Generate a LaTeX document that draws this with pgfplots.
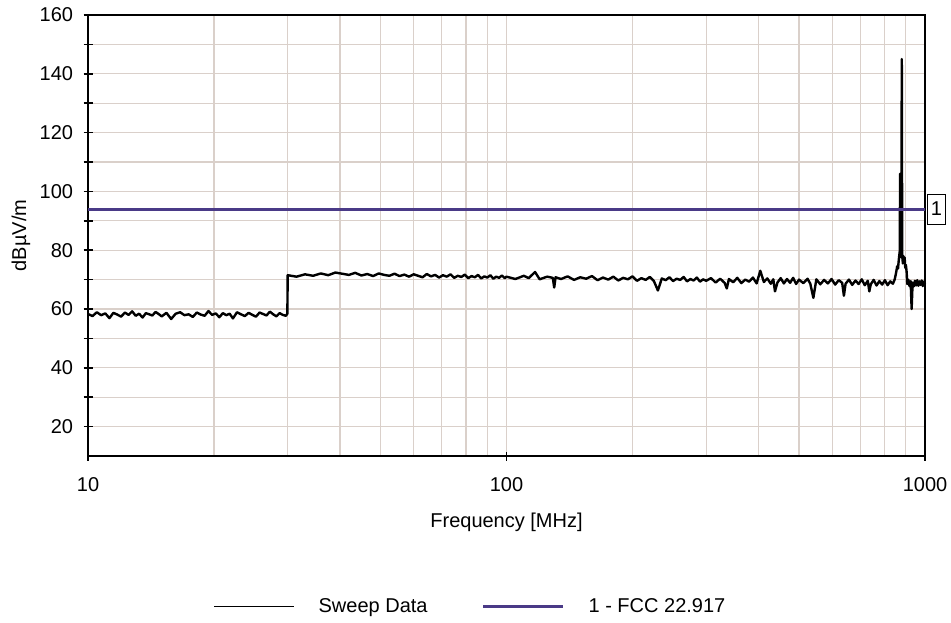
\documentclass[border=0pt]{standalone}
\usepackage{fontspec}
\setmainfont{Liberation Sans}
\usepackage{pgfplots}
\pgfplotsset{compat=1.18}
\definecolor{gridc}{RGB}{218,208,202}
\definecolor{limitc}{RGB}{74,58,135}

\begin{document}
\begin{tikzpicture}
\useasboundingbox (-44pt,-83pt) rectangle (431.5pt,228pt);
\begin{axis}[
  at={(0,0)}, anchor=south west,
  scale only axis,
  width=418.5pt, height=220.5pt,
  xmode=log,
  xmin=10, xmax=1000,
  ymin=10, ymax=160,
  log ticks with fixed point,
  /pgf/number format/1000 sep={},
  xtick={10,100,1000},
  ytick={20,40,...,160},
  minor y tick num=1,
  tick pos=left,
  grid=both,
  major grid style={gridc, line width=0.6pt},
  minor grid style={gridc, line width=0.6pt},
  axis line style={black, line width=0.9pt},
  tick align=center,
  major tick length=4.5pt,
  minor tick length=4.5pt,
  every tick/.style={black, line width=0.8pt},
  minor x tick style={draw=none},
  /pgf/number format/assume math mode=true,
  tick label style={font=\fontsize{10}{12}\selectfont},
  xticklabel style={yshift=-5pt},
  yticklabel style={xshift=-1.7pt},
  xlabel={Frequency [MHz]},
  ylabel={dBµV/m},
  label style={font=\fontsize{10}{12}\selectfont},
  xlabel style={at={(axis description cs:0.5,-0.1497)}, anchor=center},
  ylabel style={at={(axis description cs:-0.080,0.5)}, anchor=center},
  clip=false,
  legend columns=2,
  legend style={at={(axis description cs:0.1494,-0.342)}, anchor=west,
    draw=none, fill=none, inner sep=0pt,
    font=\fontsize{10}{12}\selectfont,
    nodes={inner sep=0pt, anchor=west},
    /tikz/every odd column/.append style={column sep=12pt},
    /tikz/every even column/.append style={column sep=27pt}},
  legend image code/.code={\draw[#1] (0pt,0pt) -- (40pt,0pt);},
]
% sweep data
\addplot[black, line width=1.2pt, line join=round, forget plot] coordinates {
(10.00,58.3) (10.25,57.6) (10.50,58.9) (10.75,57.9) (11.00,58.5) (11.25,56.9)
(11.50,58.7) (11.75,58.1) (12.00,57.4) (12.25,58.8) (12.50,58.0) (12.75,59.2)
(13.00,57.7) (13.25,58.4) (13.50,57.1) (13.75,58.6) (14.00,58.2) (14.25,57.8)
(14.50,59.0) (14.75,58.3) (15.00,57.5) (15.40,58.7) (15.80,56.6) (16.20,58.4)
(16.60,58.9) (17.00,57.9) (17.40,58.2) (17.80,57.3) (18.20,58.8) (18.60,58.1)
(19.00,57.7) (19.40,59.3) (19.80,58.0) (20.20,58.5) (20.60,57.2) (21.00,58.6)
(21.40,57.9) (21.80,58.4) (22.20,56.8) (22.70,58.9) (23.20,58.2) (23.70,57.6)
(24.20,58.7) (24.70,58.0) (25.20,57.4) (25.70,58.8) (26.20,58.3) (26.70,57.8)
(27.20,59.1) (27.70,58.2) (28.20,57.5) (28.70,58.6) (29.20,58.0) (29.70,57.7)
(29.95,58.4)
(30.0,71.5) (31.5,71.0) (33.0,71.8) (34.5,71.3) (36.0,72.1) (37.5,71.5)
(39.0,72.4) (40.5,72.0) (42.0,71.6) (43.5,72.3) (45.0,71.4) (46.5,71.9)
(48.0,71.2) (49.5,72.1) (51.0,71.6) (52.5,71.3) (54.0,72.0) (55.5,71.2)
(57.0,71.7) (58.5,71.0) (60.0,71.8) (61.5,71.3) (63.0,70.8) (64.5,71.9)
(66.0,71.1) (67.5,71.6) (69.0,70.7) (70.5,71.5) (72.0,71.0) (73.5,71.8)
(75.0,70.6) (76.5,71.3) (78.0,70.9) (79.5,71.7) (81.0,70.5) (82.5,71.2)
(84.0,70.8) (85.5,71.6) (87.0,70.4) (88.5,71.1) (90.0,70.7) (91.5,71.5)
(93.0,70.3) (94.5,71.0) (96.0,70.6) (97.5,71.4) (99.0,70.5)
(100,71.0) (105,70.2) (110,71.3) (113,70.5) (117,72.6) (120,70.1)
(125,71.0) (129,70.6) (130,67.3) (131,70.8) (135,70.2) (140,71.1)
(145,69.9) (150,70.8) (155,70.3) (160,71.2) (165,69.8) (170,70.7)
(175,70.0) (180,71.0) (185,69.7) (190,70.6) (195,70.1) (200,71.1)
(205,69.6) (210,70.5) (215,69.9) (220,70.9) (225,69.5) (230,66.3)
(235,70.4) (240,69.8) (245,70.8) (250,69.5) (255,70.3) (260,69.9)
(265,70.9) (270,69.4) (275,70.2) (280,69.7) (285,70.7) (290,69.3)
(295,70.1) (300,69.6)
(308,70.5) (316,69.0) (324,70.3) (332,68.9) (336,67.0) (340,70.2)
(348,69.1) (356,70.6) (364,68.8) (372,70.0) (380,69.3) (388,70.7)
(396,68.7) (404,73.0) (412,69.2) (420,70.4) (428,68.6) (434,70.1)
(438,66.0) (444,69.0) (452,70.5) (460,68.7) (468,70.2) (476,68.9)
(484,70.6) (492,68.5) (500,70.0) (512,68.8) (524,70.3) (532,68.6)
(541,63.8) (550,70.1) (562,68.4) (574,69.9) (586,68.7) (598,70.2)
(610,68.3) (622,69.8) (634,68.9) (640,64.5) (646,68.6) (658,70.0)
(670,68.2) (682,69.7) (694,68.5) (706,70.1) (718,68.1) (730,69.6)
(736,66.0) (742,68.4) (754,69.9) (766,68.0) (778,69.5) (790,68.3)
(802,69.8) (814,68.1) (826,69.4) (838,68.6) (846,70.0) (852,72.0)
(858,74.5) (862,73.8) (866,77.0) (870,79.5) (872,106.0) (874,78.5)
(876,80.0) (878,77.5) (880,145.0) (882,79.0) (885,75.5) (888,78.0)
(891,76.0) (894,77.5) (897,74.0) (900,75.0) (904,72.5) (907,68.5)
(912,70.0) (918,67.8) (924,69.5) (929,60.0) (934,69.0) (940,67.7)
(946,69.6) (952,68.0) (958,69.8) (964,67.9) (970,69.4) (976,68.2)
(982,69.7) (988,67.8) (994,69.3) (1000,68.5)
};
\addlegendimage{black, line width=0.6pt}
\addlegendentry{Sweep Data}
% limit line
\addplot[limitc, line width=1.5pt] coordinates {(10,94) (1000,94)};
\addlegendentry{1 - FCC 22.917}
\node[draw, black, line width=0.5pt, anchor=west, inner sep=0pt,
  minimum width=9pt, minimum height=15pt, xshift=1pt,
  font=\fontsize{10}{12}\selectfont] at (axis cs:1000,94) {1};
\end{axis}
\end{tikzpicture}
\end{document}
